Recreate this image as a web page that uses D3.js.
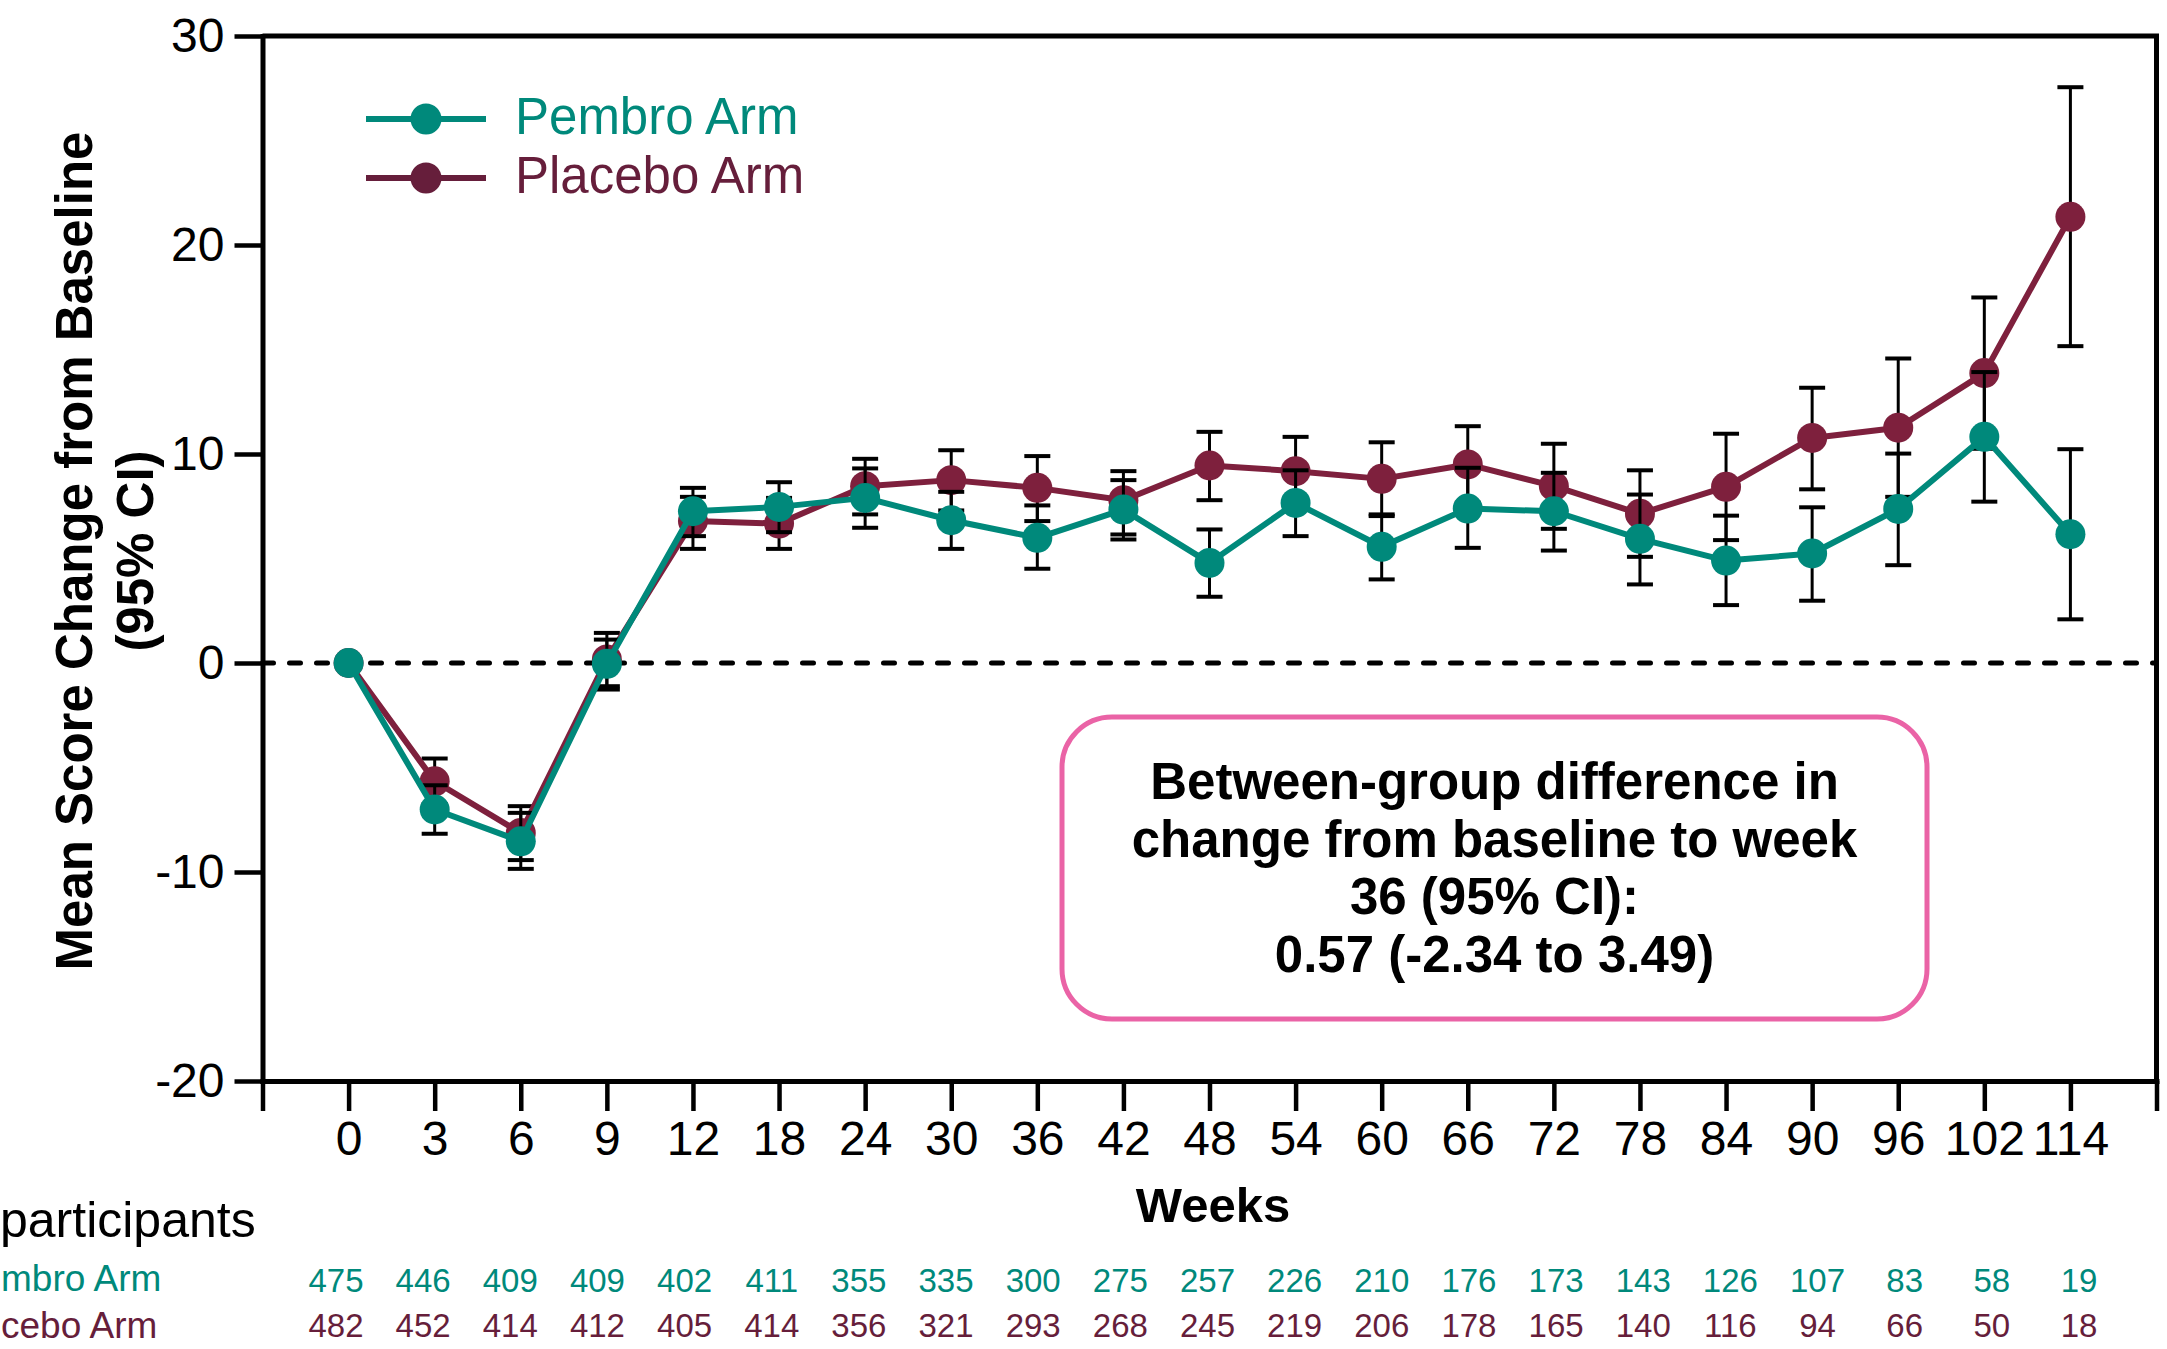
<!DOCTYPE html>
<html>
<head>
<meta charset="utf-8">
<script src="https://cdn.jsdelivr.net/npm/d3@7"></script>
<style>
  html, body { margin: 0; padding: 0; background: #fff; }
  svg { display: block; font-family: "Liberation Sans", Arial, sans-serif; }
</style>
</head>
<body>
<div id="chart"></div>
<script>
// Visit weeks (x categories)
const weeks = [0, 3, 6, 9, 12, 18, 24, 30, 36, 42, 48, 54, 60, 66, 72, 78, 84, 90, 96, 102, 114];

// Pembro arm: mean change and 95% CI
const pembroMean = [0, -7.01, -8.53, -0.04, 7.26, 7.47, 7.90, 6.83, 5.99, 7.34, 4.79, 7.66, 5.56, 7.39, 7.26, 5.94, 4.90, 5.24, 7.37, 10.82, 6.16];
const pembroLow  = [null, -8.17, -9.85, -1.27, 6.07, 6.26, 6.47, 5.46, 4.51, 5.91, 3.17, 6.07, 4.00, 5.51, 5.38, 3.76, 2.77, 2.98, 4.68, 7.72, 2.09];
const pembroHigh = [null, -5.85, -7.17, 1.12, 8.38, 8.65, 9.31, 8.19, 7.54, 8.75, 6.39, 9.22, 7.11, 9.34, 9.10, 8.06, 7.05, 7.45, 10.02, 13.92, 10.23];

// Placebo arm: mean change and 95% CI
const placeboMean = [0, -5.66, -8.13, 0.17, 6.79, 6.67, 8.46, 8.75, 8.38, 7.79, 9.45, 9.18, 8.81, 9.50, 8.46, 7.14, 8.43, 10.77, 11.26, 13.87, 21.35];
const placeboLow  = [null, -6.75, -9.43, -1.11, 5.46, 5.46, 7.11, 7.30, 6.79, 6.15, 7.79, 7.54, 7.03, 7.67, 6.42, 5.08, 5.88, 8.31, 7.95, 10.25, 15.16];
const placeboHigh = [null, -4.57, -6.85, 1.44, 7.95, 7.90, 9.77, 10.18, 9.90, 9.18, 11.06, 10.82, 10.56, 11.33, 10.49, 9.22, 10.97, 13.17, 14.57, 17.49, 27.55];

// Number of participants at each visit
const pembroN  = [475, 446, 409, 409, 402, 411, 355, 335, 300, 275, 257, 226, 210, 176, 173, 143, 126, 107, 83, 58, 19];
const placeboN = [482, 452, 414, 412, 405, 414, 356, 321, 293, 268, 245, 219, 206, 178, 165, 140, 116, 94, 66, 50, 18];

const yTicks = [-20, -10, 0, 10, 20, 30];

const boxLines = [
    "Between-group difference in",
    "change from baseline to week",
    "36 (95% CI):",
    "0.57 (-2.34 to 3.49)"
];

// Series, drawn placebo first so pembro sits on top
// rowLabel is the part of the table label left visible at the page edge
const series = [
    { name: "Placebo Arm", rowLabel: "cebo Arm", color: "#7E203D", textColor: "#661E3B", mean: placeboMean, low: placeboLow, high: placeboHigh, n: placeboN },
    { name: "Pembro Arm", rowLabel: "mbro Arm", color: "#00897B", textColor: "#00897B", mean: pembroMean, low: pembroLow, high: pembroHigh, n: pembroN }
];

const width = 2167;
const height = 1349;

const svg = d3.select("#chart")
    .append("svg")
    .attr("width", width)
    .attr("height", height);

// Scales: x is the visit index, with one empty slot on each side
const x = d3.scaleLinear()
    .domain([-1, weeks.length])
    .range([262.5, 2156.5]);

const y = d3.scaleLinear()
    .domain([-20, 30])
    .range([1081, 36]);

// Zero reference line
svg.append("line")
    .attr("x1", x(-1))
    .attr("x2", x(weeks.length))
    .attr("y1", y(0))
    .attr("y2", y(0))
    .attr("stroke", "#000")
    .attr("stroke-width", 5)
    .attr("stroke-dasharray", "11 16")
    .attr("stroke-linecap", "round");

// Top and right frame
svg.append("path")
    .attr("d", `M${x(-1)},${y(30)}H${x(weeks.length)}V${y(-20)}`)
    .attr("fill", "none")
    .attr("stroke", "#000")
    .attr("stroke-width", 5);

// X axis
const xAxis = d3.axisBottom(x)
    .tickValues(d3.range(-1, weeks.length + 1))
    .tickFormat(i => weeks[i] !== undefined ? weeks[i] : "")
    .tickSize(30)
    .tickSizeOuter(0)
    .tickPadding(10);

const gx = svg.append("g")
    .attr("transform", `translate(0,${y(-20)})`)
    .call(xAxis);

// Y axis
const yAxis = d3.axisLeft(y)
    .tickValues(yTicks)
    .tickFormat(d => String(d))
    .tickSize(28)
    .tickSizeOuter(0)
    .tickPadding(10);

const gy = svg.append("g")
    .attr("transform", `translate(${x(-1)},0)`)
    .call(yAxis);

[gx, gy].forEach(g => {
    g.attr("font-family", null).attr("font-size", null);
    g.select(".domain").attr("stroke-width", 5).attr("stroke-linecap", "square");
    g.selectAll(".tick line").attr("stroke-width", 4.5);
    g.selectAll(".tick text").attr("font-size", 48).attr("fill", "#000");
});

// Error bars, line and markers per series
series.forEach(s => {
    const g = svg.append("g");
    const idx = d3.range(weeks.length).filter(i => s.low[i] !== null);

    const bars = g.selectAll(".bar")
        .data(idx)
        .enter()
        .append("g")
        .attr("stroke", "#000");

    bars.append("line")
        .attr("x1", i => x(i)).attr("x2", i => x(i))
        .attr("y1", i => y(s.low[i])).attr("y2", i => y(s.high[i]))
        .attr("stroke-width", 3);

    ["low", "high"].forEach(k => {
        bars.append("line")
            .attr("x1", i => x(i) - 13).attr("x2", i => x(i) + 13)
            .attr("y1", i => y(s[k][i])).attr("y2", i => y(s[k][i]))
            .attr("stroke-width", 4);
    });

    const line = d3.line()
        .x((d, i) => x(i))
        .y(d => y(d));

    g.append("path")
        .datum(s.mean)
        .attr("d", line)
        .attr("fill", "none")
        .attr("stroke", s.color)
        .attr("stroke-width", 6)
        .attr("stroke-linejoin", "round");

    g.selectAll("circle")
        .data(s.mean)
        .enter()
        .append("circle")
        .attr("cx", (d, i) => x(i))
        .attr("cy", d => y(d))
        .attr("r", 15)
        .attr("fill", s.color);
});

// Legend
const legend = svg.append("g");
[series[1], series[0]].forEach((s, k) => {
    const ly = 119 + k * 59;
    legend.append("line")
        .attr("x1", 366).attr("x2", 486)
        .attr("y1", ly).attr("y2", ly)
        .attr("stroke", s.textColor)
        .attr("stroke-width", 6);
    legend.append("circle")
        .attr("cx", 426).attr("cy", ly)
        .attr("r", 15.5)
        .attr("fill", s.textColor);
    legend.append("text")
        .attr("x", 515).attr("y", ly + 15)
        .attr("font-size", 51)
        .attr("fill", s.textColor)
        .text(s.name);
});

// Annotation box
svg.append("rect")
    .attr("x", 1062).attr("y", 717)
    .attr("width", 865).attr("height", 302)
    .attr("rx", 50).attr("ry", 50)
    .attr("fill", "#fff")
    .attr("stroke", "#EA63A6")
    .attr("stroke-width", 5);

svg.append("g")
    .selectAll("text")
    .data(boxLines)
    .enter()
    .append("text")
    .attr("x", 1494.5)
    .attr("y", (d, i) => 799 + i * 57.6)
    .attr("text-anchor", "middle")
    .attr("font-size", 51)
    .attr("font-weight", "bold")
    .text(d => d);

// Axis titles
const yTitle = ["Mean Score Change from Baseline", "(95% CI)"];
svg.append("g")
    .selectAll("text")
    .data(yTitle)
    .enter()
    .append("text")
    .attr("transform", (d, i) => `translate(${92 + i * 61},551) rotate(-90)`)
    .attr("text-anchor", "middle")
    .attr("font-size", 51)
    .attr("font-weight", "bold")
    .text(d => d);

svg.append("text")
    .attr("x", 1213).attr("y", 1222)
    .attr("text-anchor", "middle")
    .attr("font-size", 49)
    .attr("font-weight", "bold")
    .text("Weeks");

// Participants table
svg.append("text")
    .attr("x", 0).attr("y", 1237)
    .attr("font-size", 50)
    .text("participants");

const tableX = d3.scaleLinear()
    .domain([0, weeks.length - 1])
    .range([336, 2079]);

[series[1], series[0]].forEach((s, k) => {
    svg.append("text")
        .attr("x", 1).attr("y", 1291 + k * 47)
        .attr("font-size", 37)
        .attr("fill", s.textColor)
        .text(s.rowLabel);

    svg.append("g")
        .selectAll("text")
        .data(s.n)
        .enter()
        .append("text")
        .attr("x", (d, i) => tableX(i))
        .attr("y", 1291.7 + k * 45)
        .attr("text-anchor", "middle")
        .attr("font-size", 33)
        .attr("fill", s.textColor)
        .text(d => d);
});
</script>
</body>
</html>
